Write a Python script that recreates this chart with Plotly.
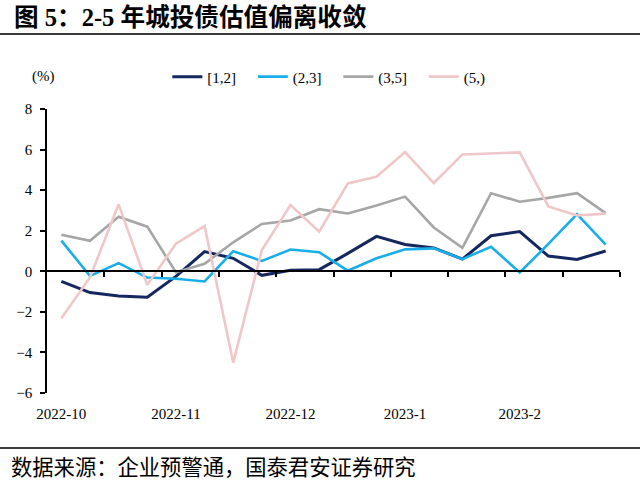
import plotly.graph_objects as go

# ---- data ----
weeks = list(range(20))
tick_pos = [0, 4, 8, 12, 16]
tick_labels = ["2022-10", "2022-11", "2022-12", "2023-1", "2023-2"]

series_names = ["[1,2]", "(2,3]", "(3,5]", "(5,)"]
s_1_2 = [-0.5, -1.05, -1.22, -1.28, -0.25, 0.97, 0.64, -0.2, 0.05, 0.08,
         0.88, 1.72, 1.32, 1.15, 0.6, 1.75, 1.96, 0.75, 0.58, 1.0]
s_2_3 = [1.51, -0.23, 0.4, -0.31, -0.37, -0.5, 0.99, 0.51, 1.07, 0.94,
         0.03, 0.64, 1.08, 1.13, 0.6, 1.21, -0.06, 1.35, 2.82, 1.31]
s_3_5 = [1.8, 1.5, 2.69, 2.2, -0.05, 0.37, 1.43, 2.33, 2.5, 3.06,
         2.85, 3.24, 3.68, 2.16, 1.16, 3.85, 3.43, 3.62, 3.85, 2.87]
s_5 = [-2.32, -0.3, 3.3, -0.67, 1.36, 2.23, -4.5, 1.05, 3.27, 1.95,
       4.33, 4.66, 5.88, 4.35, 5.76, 5.8, 5.86, 3.2, 2.75, 2.84]

colors = ["#14285f", "#19aee8", "#a6a6a6", "#efc7c9"]
widths = [3, 2.6, 2.6, 2.6]

SERIF = "Liberation Serif, Times New Roman, Noto Sans CJK SC, serif"
CJK = "Noto Sans CJK SC, sans-serif"

fig = go.Figure()
# invisible helper trace so that the zero-level axis (x2) gets drawn
fig.add_trace(go.Scatter(x=weeks, y=s_1_2, xaxis="x2", mode="lines",
                         line=dict(width=0, color="rgba(0,0,0,0)"),
                         showlegend=False, hoverinfo="skip"))
for name, vals, c, w in zip(series_names, [s_1_2, s_2_3, s_3_5, s_5], colors, widths):
    fig.add_trace(go.Scatter(x=weeks, y=vals, mode="lines", name=name,
                             line=dict(color=c, width=w)))

n = len(weeks)
boundaries = [i + 1.5 for i in range(0, n, 2)]
ymin, ymax = -6, 8

fig.update_layout(
    width=640, height=485,
    margin=dict(l=47, r=20, t=109, b=92),
    paper_bgcolor="white", plot_bgcolor="white",
    font=dict(family=SERIF, size=15, color="black"),
    showlegend=True,
    legend=dict(orientation="h", x=0.21, xanchor="left", y=1.113, yanchor="middle",
                font=dict(family=SERIF, size=15), entrywidth=40.5,
                bgcolor="rgba(0,0,0,0)", itemwidth=30),
    xaxis=dict(range=[-0.5, n - 0.5], tickvals=tick_pos, ticktext=tick_labels,
               showline=False, showgrid=False, zeroline=False,
               ticks="outside", ticklen=7, tickcolor="rgba(0,0,0,0)",
               tickfont=dict(family=SERIF, size=15)),
    xaxis2=dict(range=[-0.5, n - 0.5], overlaying="x", anchor="free",
                position=(0 - ymin) / (ymax - ymin),
                tickvals=boundaries, showticklabels=False,
                showline=True, linecolor="black", linewidth=1.5,
                ticks="outside", ticklen=5, tickwidth=1.5, tickcolor="black",
                showgrid=False, zeroline=False),
    yaxis=dict(range=[ymin, ymax], dtick=2, showline=True, linecolor="black",
               linewidth=1.5, ticks="outside", ticklen=5, tickwidth=1.5,
               tickcolor="black", showgrid=False, zeroline=False,
               ticklabelstandoff=5, tickfont=dict(family=SERIF, size=15)),
)

H = 284.0
W = 573.0
def py(p):
    return (393 - p) / H
def px(p):
    return (p - 47) / W

fig.add_annotation(xref="paper", yref="paper", x=px(12), y=py(17), xanchor="left",
                   yanchor="middle", showarrow=False,
                   text="<b>图 5：2-5 年城投债估值偏离收敛</b>",
                   font=dict(family=SERIF, size=24.6, color="black"))
fig.add_annotation(xref="paper", yref="paper", x=px(43), y=py(77), xanchor="center",
                   yanchor="middle", showarrow=False, text="(%)",
                   font=dict(family=SERIF, size=15, color="black"))
fig.add_annotation(xref="paper", yref="paper", x=px(9), y=py(465), xanchor="left",
                   yanchor="middle", showarrow=False,
                   text="数据来源：企业预警通，国泰君安证券研究",
                   font=dict(family=CJK, size=21.3, color="black"))

for yy in (34, 448):
    fig.add_shape(type="line", xref="paper", yref="paper", x0=px(0), x1=px(640),
                  y0=py(yy), y1=py(yy), line=dict(color="#3a3a3a", width=2))

fig.write_html("out.html", config={"displayModeBar": False},
               post_script="document.body.style.margin='0';document.body.style.overflow='hidden';")
